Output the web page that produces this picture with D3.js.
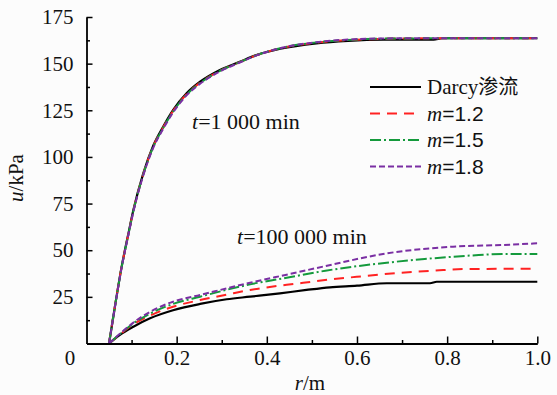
<!DOCTYPE html>
<html>
<head>
<meta charset="utf-8">
<script src="https://cdn.jsdelivr.net/npm/d3@7"></script>
<style>
  html, body { margin: 0; padding: 0; background: #fcfcfc; }
  svg { display: block; }
  text { font-family: "Liberation Serif", "Times New Roman", serif; fill: #111; }
</style>
</head>
<body>
<svg id="chart" width="557" height="395"></svg>
<script>
// ---------- data ----------
const xTicks = [0.2, 0.4, 0.6, 0.8, 1.0];
const xMinorTicks = [0.1, 0.3, 0.5, 0.7, 0.9];
const yTicks = [25, 50, 75, 100, 125, 150, 175];
const yMinorTicks = [12.5, 37.5, 62.5, 87.5, 112.5, 137.5, 162.5];

// t = 1 000 min
const rEarly = [0.05, 0.063, 0.078, 0.093, 0.104, 0.126, 0.148, 0.170, 0.192, 0.222, 0.252, 0.296, 0.340, 0.377, 0.43, 0.51, 0.58, 0.658, 0.72, 0.77, 0.79, 0.87, 1.0];
const uEarlyDarcy = [0, 19.7, 41.2, 59, 71.5, 91.2, 106, 116.2, 125.1, 134.1, 140.3, 146.6, 151, 154.6, 158, 160.9, 162.2, 162.8, 162.8, 162.9, 163.6, 163.6, 163.6];
const uEarlyM12 = [0, 19.9, 41.2, 58.8, 71.2, 90.8, 105.6, 115.8, 124.6, 133.6, 139.8, 146.2, 150.8, 154.5, 158.2, 161.3, 162.6, 163.3, 163.5, 163.6, 163.6, 163.6, 163.6];
const uEarlyM15 = [0, 19.8, 41.0, 58.6, 71.0, 90.6, 105.3, 115.5, 124.3, 133.4, 139.6, 146.1, 150.8, 154.5, 158.3, 161.4, 162.7, 163.4, 163.5, 163.6, 163.6, 163.6, 163.6];
const uEarlyM18 = [0, 19.5, 40.8, 58.3, 70.6, 90.2, 104.8, 115.0, 123.8, 133.0, 139.2, 145.8, 150.6, 154.4, 158.3, 161.5, 162.9, 163.5, 163.6, 163.6, 163.6, 163.6, 163.6];

// t = 100 000 min
const rLateDarcy = [0.05, 0.075, 0.104, 0.141, 0.192, 0.252, 0.311, 0.363, 0.429, 0.488, 0.54, 0.6, 0.666, 0.762, 0.777, 0.85, 1.0];
const uLateDarcy = [0, 4.8, 9, 13.5, 17.8, 21.2, 23.7, 25.1, 26.9, 28.7, 30.1, 31.0, 32.3, 32.3, 33.1, 33.1, 33.1];
const rLateM12 = [0.05, 0.075, 0.104, 0.141, 0.192, 0.252, 0.311, 0.363, 0.473, 0.540, 0.62, 0.695, 0.77, 0.835, 0.92, 1.0];
const uLateM12 = [0, 5, 10.3, 15, 19.7, 23.3, 26.2, 28.7, 32.3, 34.3, 36.2, 37.9, 39.0, 39.9, 40, 40];
const rLateM15 = [0.05, 0.075, 0.104, 0.141, 0.192, 0.252, 0.363, 0.45, 0.53, 0.666, 0.75, 0.813, 0.87, 0.924, 1.0];
const uLateM15 = [0, 5.2, 10.8, 16, 21.2, 25.1, 31.7, 35.5, 39.0, 43.3, 45.3, 46.5, 47.4, 48, 48];
const rLateM18 = [0.05, 0.075, 0.104, 0.141, 0.192, 0.252, 0.363, 0.45, 0.53, 0.666, 0.813, 0.924, 1.0];
const uLateM18 = [0, 5.4, 11.2, 17, 22.4, 26, 32.6, 37.2, 41.5, 48.3, 51.9, 52.8, 53.7];

const seriesNames = ["Darcy", "m=1.2", "m=1.5", "m=1.8"];
const seriesColors = ["#000000", "#ff2222", "#149a3c", "#7a2fa3"];
const seriesDash = [null, "10,7", "11,3,2,3", "6,3"];
const seriesWidth = [2.2, 2, 2, 2];

// ---------- chart ----------
const svg = d3.select("#chart");
const x = d3.scaleLinear().domain([0, 1]).range([86.5, 537.3]);
const y = d3.scaleLinear().domain([0, 175]).range([343.5, 17]);

const line = d3.line().x(d => x(d[0])).y(d => y(d[1])).curve(d3.curveMonotoneX);
const zip = (r, u) => r.map((v, i) => [v, u[i]]);

const curves = [
  [zip(rEarly, uEarlyDarcy), zip(rLateDarcy, uLateDarcy)],
  [zip(rEarly, uEarlyM12), zip(rLateM12, uLateM12)],
  [zip(rEarly, uEarlyM15), zip(rLateM15, uLateM15)],
  [zip(rEarly, uEarlyM18), zip(rLateM18, uLateM18)]
];

const plot = svg.append("g");
curves.forEach((pair, i) => {
  pair.forEach(data => {
    plot.append("path")
      .attr("d", line(data))
      .attr("fill", "none")
      .attr("stroke", seriesColors[i])
      .attr("stroke-width", seriesWidth[i])
      .attr("stroke-dasharray", seriesDash[i]);
  });
});

// axes
const axisFont = 21;
svg.append("g").attr("transform", `translate(0,${y(0)})`)
  .call(d3.axisBottom(x).tickValues(xTicks).tickFormat(d3.format(".1f"))
    .tickSizeInner(-7).tickSizeOuter(0).tickPadding(7));
svg.append("g").attr("transform", `translate(0,${y(0)})`)
  .call(d3.axisBottom(x).tickValues(xMinorTicks).tickFormat("")
    .tickSizeInner(-3.5).tickSizeOuter(0))
  .select(".domain").remove();

svg.append("g").attr("transform", `translate(${x(0)},0)`)
  .call(d3.axisLeft(y).tickValues(yTicks).tickFormat(d3.format("d"))
    .tickSizeInner(-6).tickSizeOuter(0).tickPadding(13));
svg.append("g").attr("transform", `translate(${x(0)},0)`)
  .call(d3.axisLeft(y).tickValues(yMinorTicks).tickFormat("")
    .tickSizeInner(-3.5).tickSizeOuter(0))
  .select(".domain").remove();

svg.selectAll(".domain").attr("stroke", "#000").attr("stroke-width", 1.8);
svg.selectAll(".tick line").attr("stroke", "#000").attr("stroke-width", 1.5);
svg.selectAll(".tick text")
  .attr("font-family", "Liberation Serif, Times New Roman, serif")
  .attr("font-size", axisFont).attr("fill", "#111");

// origin label
svg.append("text").attr("x", 70).attr("y", 365).attr("text-anchor", "middle")
  .attr("font-size", axisFont).text("0");

// axis titles
const xt = svg.append("text").attr("x", 310).attr("y", 390).attr("text-anchor", "middle")
  .attr("font-size", axisFont);
xt.append("tspan").attr("font-style", "italic").text("r");
xt.append("tspan").text("/m");

const yt = svg.append("text").attr("transform", "translate(23,178) rotate(-90)")
  .attr("text-anchor", "middle").attr("font-size", axisFont);
yt.append("tspan").attr("font-style", "italic").text("u");
yt.append("tspan").text("/kPa");

// annotations
const a1 = svg.append("text").attr("x", 192).attr("y", 129).attr("font-size", 22);
a1.append("tspan").attr("font-style", "italic").text("t");
a1.append("tspan").text("=1 000 min");
const a2 = svg.append("text").attr("x", 237).attr("y", 244).attr("font-size", 22);
a2.append("tspan").attr("font-style", "italic").text("t");
a2.append("tspan").text("=100 000 min");

// legend
const legendY = [87, 113.5, 140, 166.5];
const leg = svg.append("g");
seriesNames.forEach((name, i) => {
  leg.append("line")
    .attr("x1", 370).attr("x2", 421)
    .attr("y1", legendY[i]).attr("y2", legendY[i])
    .attr("stroke", seriesColors[i])
    .attr("stroke-width", seriesWidth[i])
    .attr("stroke-dasharray", seriesDash[i]);
  const t = leg.append("text").attr("x", 427).attr("y", legendY[i] + 7).attr("font-size", 21);
  if (i === 0) {
    t.append("tspan").text("Darcy");
    t.append("tspan").attr("font-family", "Noto Sans CJK SC").attr("font-size", 20).text("渗流");
  } else {
    t.append("tspan").attr("font-style", "italic").text("m");
    t.append("tspan").attr("font-family", "Liberation Sans, Arial, sans-serif").text(name.slice(1));
  }
});
</script>
</body>
</html>
